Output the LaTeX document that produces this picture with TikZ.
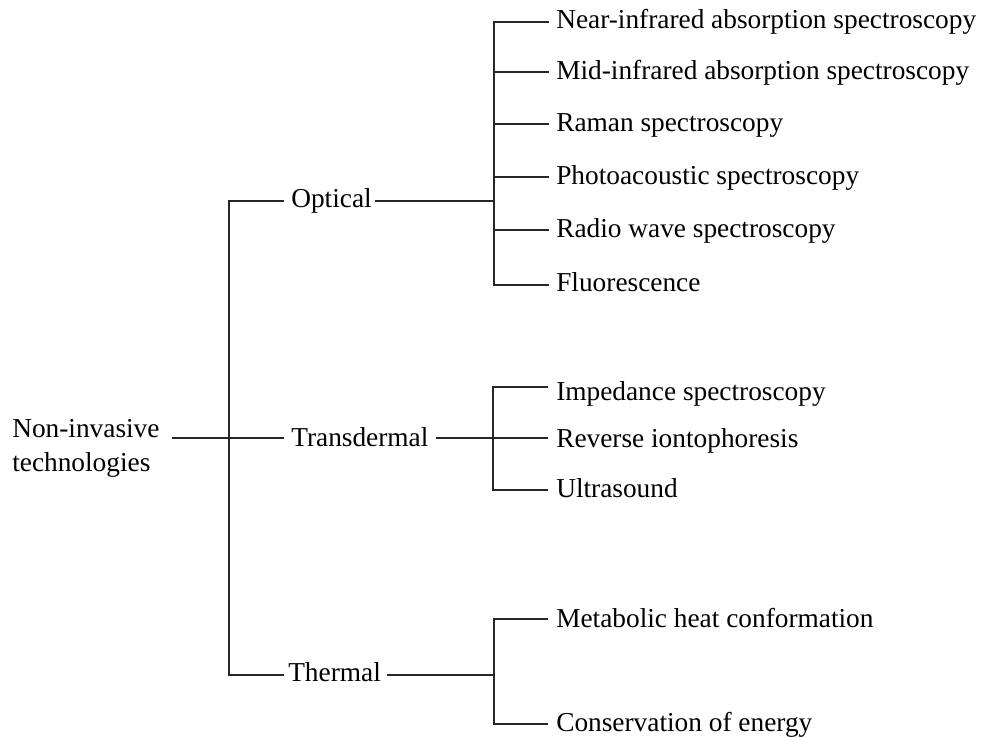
\documentclass[tikz,border=0pt]{standalone}
\usepackage{fontspec}
\setmainfont{Liberation Serif}
\begin{document}
\begin{tikzpicture}[x=0.75pt,y=-0.75pt,
  lbl/.style={anchor=base west,inner sep=0pt,font=\fontsize{20.5pt}{24pt}\selectfont,text=black},
  conn/.style={draw=black!85,line width=1.1pt,line cap=rect}]
\useasboundingbox[fill=white] (0,0) rectangle (983,738);
% texts
\node[lbl] (root1) at (12,437) {Non-invasive};
\node[lbl] (root2) at (12,471) {technologies};
\node[lbl] (opt) at (291,208) {Optical};
\node[lbl] (trans) at (291,446) {Transdermal};
\node[lbl] (therm) at (288,681) {Thermal};
\node[lbl] (o1) at (556,29) {Near-infrared absorption spectroscopy};
\node[lbl] (o2) at (556,80) {Mid-infrared absorption spectroscopy};
\node[lbl] (o3) at (556,132) {Raman spectroscopy};
\node[lbl] (o4) at (556,185) {Photoacoustic spectroscopy};
\node[lbl] (o5) at (556,238) {Radio wave spectroscopy};
\node[lbl] (o6) at (556,292) {Fluorescence};
\node[lbl] (t1) at (556,401) {Impedance spectroscopy};
\node[lbl] (t2) at (556,447) {Reverse iontophoresis};
\node[lbl] (t3) at (556,497) {Ultrasound};
\node[lbl] (h1) at (556,627) {Metabolic heat conformation};
\node[lbl] (h2) at (556,731) {Conservation of energy};
% connector ends
\coordinate (rootR) at (173,438);
\coordinate (mT) at (229,201);
\coordinate (mM) at (229,438);
\coordinate (mB) at (229,675);
\coordinate (optL) at (283,201);
\coordinate (optR) at (376,201);
\coordinate (transL) at (283,438);
\coordinate (transR) at (437,438);
\coordinate (thermL) at (283,675);
\coordinate (thermR) at (388,675);
\coordinate (ov) at (494,201);
\coordinate (tv) at (493,438);
\coordinate (hv) at (494,675);
% root
\draw[conn] (rootR) -- (mM);
\draw[conn] (mT) -- (mB);
\draw[conn] (mT) -- (optL);
\draw[conn] (mM) -- (transL);
\draw[conn] (mB) -- (thermL);
% optical
\draw[conn] (optR) -- (ov);
\draw[conn] (494,22) -- (494,285);
\foreach \y/\n in {22/o1a,72/o2a,124/o3a,177/o4a,230/o5a,285/o6a}{
  \coordinate (\n) at (548,\y);
  \draw[conn] (ov |- \n) -- (\n);
}
% transdermal
\draw[conn] (transR) -- (tv);
\draw[conn] (493,387) -- (493,490);
\foreach \y/\n in {387/t1a,438/t2a,490/t3a}{
  \coordinate (\n) at (547,\y);
  \draw[conn] (tv |- \n) -- (\n);
}
% thermal
\draw[conn] (thermR) -- (hv);
\draw[conn] (494,619) -- (494,724);
\foreach \y/\n in {619/h1a,724/h2a}{
  \coordinate (\n) at (547,\y);
  \draw[conn] (hv |- \n) -- (\n);
}
\end{tikzpicture}
\end{document}
